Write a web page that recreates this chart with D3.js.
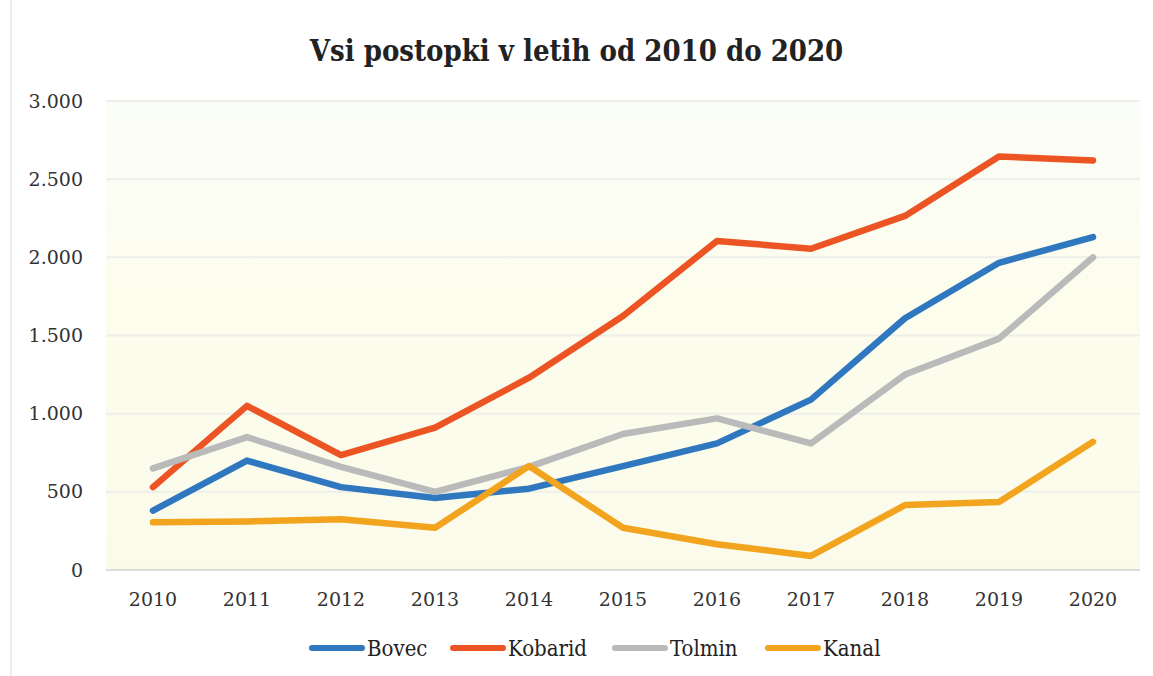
<!DOCTYPE html>
<html lang="sl">
<head>
<meta charset="utf-8">
<title>Vsi postopki</title>
<script src="https://d3js.org/d3.v7.min.js"></script>
<style>
  body { margin: 0; background: #fff; }
  svg { display: block; }
</style>
</head>
<body>
<div id="chart"></div>
<script>
var years = ["2010","2011","2012","2013","2014","2015","2016","2017","2018","2019","2020"];
var bovec   = [380, 700, 530, 460, 520, 665, 810, 1090, 1610, 1965, 2130];
var kobarid = [530, 1050, 735, 910, 1230, 1625, 2105, 2055, 2265, 2645, 2620];
var tolmin  = [650, 850, 660, 500, 660, 870, 970, 810, 1250, 1480, 2000];
var kanal   = [305, 310, 325, 270, 665, 270, 165, 90, 415, 435, 820];
var yTicks  = [0, 500, 1000, 1500, 2000, 2500, 3000];

var series = [
  {name: "Bovec", values: bovec, color: "#2f78bf"},
  {name: "Kobarid", values: kobarid, color: "#ec5424"},
  {name: "Tolmin", values: tolmin, color: "#bababa"},
  {name: "Kanal", values: kanal, color: "#f2a41f"}
];

var W = 1153, H = 676;
var margin = {top: 101, right: 13, bottom: 106, left: 106};
var width = W - margin.left - margin.right,
    height = H - margin.top - margin.bottom;

var svg = d3.select("#chart").append("svg")
    .attr("width", W)
    .attr("height", H);

// faint left border of the scanned frame
svg.append("line")
    .attr("x1", 11).attr("x2", 11).attr("y1", 0).attr("y2", H)
    .attr("stroke", "#ececec").attr("stroke-width", 2);

svg.append("text")
    .attr("x", W / 2)
    .attr("y", 61)
    .attr("text-anchor", "middle")
    .style("font-family", "'DejaVu Serif Condensed', 'DejaVu Serif', serif")
    .style("font-weight", "bold")
    .style("font-size", "29px")
    .attr("fill", "#222")
    .text("Vsi postopki v letih od 2010 do 2020");

var g = svg.append("g")
    .attr("transform", "translate(" + margin.left + "," + margin.top + ")");

var x = d3.scaleBand().domain(years).range([0, width]);
var y = d3.scaleLinear().domain([0, 3000]).range([height, 0]);

// plot background tint
var grad = svg.append("defs").append("linearGradient")
    .attr("id", "bg").attr("x1", 0).attr("x2", 0).attr("y1", 0).attr("y2", 1);
grad.append("stop").attr("offset", "0%").attr("stop-color", "#fbfdf8");
grad.append("stop").attr("offset", "40%").attr("stop-color", "#fdfdee");
grad.append("stop").attr("offset", "100%").attr("stop-color", "#fafbea");
g.append("rect")
    .attr("x", 0).attr("y", 0)
    .attr("width", width).attr("height", height)
    .attr("fill", "url(#bg)");

// gridlines
g.selectAll(".grid")
    .data(yTicks)
    .enter().append("line")
    .attr("x1", 0).attr("x2", width)
    .attr("y1", function(d) { return y(d); })
    .attr("y2", function(d) { return y(d); })
    .attr("stroke", function(d) { return d === 0 ? "#dcdcdc" : "#eeeeea"; })
    .attr("stroke-width", 2);

var yAxis = g.append("g")
    .call(d3.axisLeft(y).tickValues(yTicks).tickSize(0).tickPadding(23)
      .tickFormat(function(d) { return d3.format(",")(d).replace(/,/g, "."); }));
yAxis.select(".domain").remove();
yAxis.selectAll("text")
    .style("font-family", "'DejaVu Serif', serif")
    .style("font-size", "19px")
    .attr("fill", "#333");

var xAxis = g.append("g")
    .attr("transform", "translate(0," + height + ")")
    .call(d3.axisBottom(x).tickSize(0).tickPadding(23));
xAxis.select(".domain").remove();
xAxis.selectAll("text")
    .style("font-family", "'DejaVu Serif', serif")
    .style("font-size", "19px")
    .attr("fill", "#333");

var line = d3.line()
    .x(function(d, i) { return x(years[i]) + x.bandwidth() / 2; })
    .y(function(d) { return y(d); });

series.forEach(function(s) {
  g.append("path")
    .datum(s.values)
    .attr("fill", "none")
    .attr("stroke", s.color)
    .attr("stroke-width", 6.5)
    .attr("stroke-linejoin", "round")
    .attr("stroke-linecap", "round")
    .attr("d", line);
});

// legend
var legendX = [310, 451, 613, 766];
var legend = svg.selectAll(".legend")
    .data(series)
    .enter().append("g")
    .attr("transform", function(d, i) { return "translate(" + legendX[i] + ",648)"; });
legend.append("line")
    .attr("x1", 2).attr("x2", 52).attr("y1", 0).attr("y2", 0)
    .attr("stroke", function(d) { return d.color; })
    .attr("stroke-width", 6)
    .attr("stroke-linecap", "round");
legend.append("text")
    .attr("x", 57).attr("y", 8)
    .style("font-family", "'DejaVu Serif Condensed', 'DejaVu Serif', serif")
    .style("font-size", "22px")
    .attr("fill", "#222")
    .text(function(d) { return d.name; });
</script>
</body>
</html>
